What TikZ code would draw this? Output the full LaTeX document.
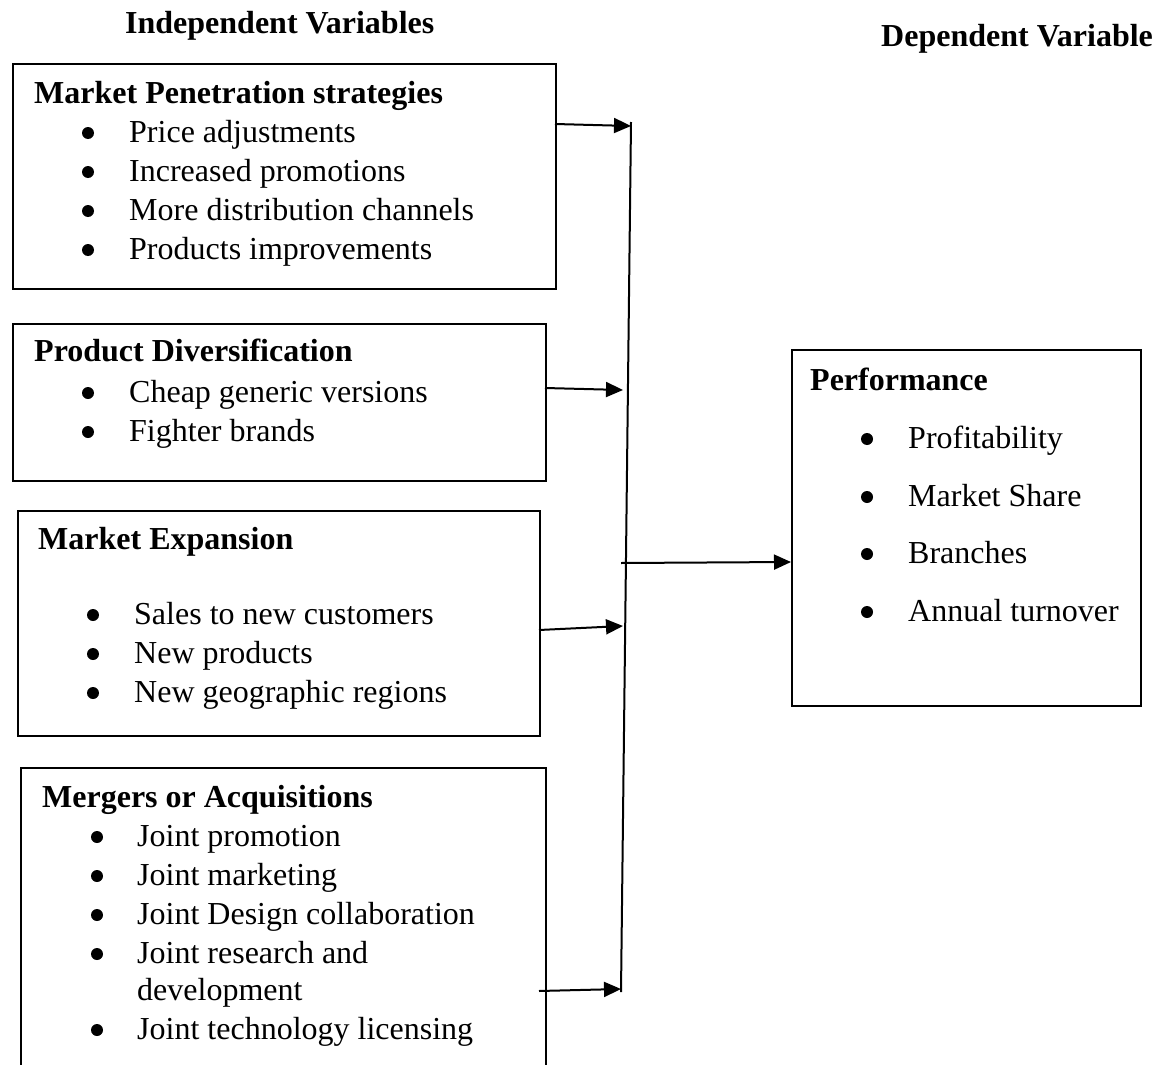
\documentclass[tikz,border=0pt]{standalone}
\usepackage{fontspec}
\setmainfont{Liberation Serif}
\usetikzlibrary{arrows.meta}
\begin{document}
\begin{tikzpicture}[x=1pt,y=-1pt,
  box/.style={draw, line width=2pt, anchor=north west, inner sep=0pt},
  hd/.style={anchor=base west, inner sep=0pt, font=\fontsize{32}{38}\selectfont\bfseries},
  itm/.style={anchor=base west, inner sep=0pt, font=\fontsize{32}{38}\selectfont},
  bul/.style={circle, fill, inner sep=0pt, minimum size=12pt},
  conn/.style={line width=2pt, -{Triangle[length=17pt,width=15pt]}},
  spine/.style={line width=2pt}]
\clip (0,0) rectangle (1157,1065);

% titles
\node[hd] (tind) at (125,34) {Independent Variables};
\node[hd] (tdep) at (881,47) {Dependent Variable};

% boxes
\node[box, minimum width=543pt, minimum height=225pt] (b1) at (12,63) {};
\node[box, minimum width=533pt, minimum height=157pt] (b2) at (12,323) {};
\node[box, minimum width=522pt, minimum height=225pt] (b3) at (17,510) {};
\node[box, minimum width=525pt, minimum height=320pt] (b4) at (20,767) {};
\node[box, minimum width=349pt, minimum height=356pt] (bp) at (791,349) {};

% box 1
\node[hd] (h1) at (34,103) {Market Penetration strategies};
\node[bul] (b1a) at (88,133) {}; \node[itm] (i1a) at (129,142) {Price adjustments};
\node[bul] (b1b) at (88,172) {}; \node[itm] (i1b) at (129,181) {Increased promotions};
\node[bul] (b1c) at (88,211) {}; \node[itm] (i1c) at (129,220) {More distribution channels};
\node[bul] (b1d) at (88,250) {}; \node[itm] (i1d) at (129,259) {Products improvements};

% box 2
\node[hd] (h2) at (34,361) {Product Diversification};
\node[bul] (b2a) at (88,393) {}; \node[itm] (i2a) at (129,402) {Cheap generic versions};
\node[bul] (b2b) at (88,432) {}; \node[itm] (i2b) at (129,441) {Fighter brands};

% box 3
\node[hd] (h3) at (38,549) {Market Expansion};
\node[bul] (b3a) at (93,615) {}; \node[itm] (i3a) at (134,624) {Sales to new customers};
\node[bul] (b3b) at (93,654) {}; \node[itm] (i3b) at (134,663) {New products};
\node[bul] (b3c) at (93,693) {}; \node[itm] (i3c) at (134,702) {New geographic regions};

% box 4
\node[hd] (h4) at (42,807) {Mergers or Acquisitions};
\node[bul] (b4a) at (97,837) {}; \node[itm] (i4a) at (137,846) {Joint promotion};
\node[bul] (b4b) at (97,876) {}; \node[itm] (i4b) at (137,885) {Joint marketing};
\node[bul] (b4c) at (97,915) {}; \node[itm] (i4c) at (137,924) {Joint Design collaboration};
\node[bul] (b4d) at (97,954) {}; \node[itm] (i4d) at (137,963) {Joint research and};
\node[itm] (i4e) at (137,1000) {development};
\node[bul] (b4f) at (97,1030) {}; \node[itm] (i4f) at (137,1039) {Joint technology licensing};

% performance
\node[hd] (hp) at (810,390) {Performance};
\node[bul] (bpa) at (867,439) {}; \node[itm] (ipa) at (908,448) {Profitability};
\node[bul] (bpb) at (867,497) {}; \node[itm] (ipb) at (908,506) {Market Share};
\node[bul] (bpc) at (867,554) {}; \node[itm] (ipc) at (908,563) {Branches};
\node[bul] (bpd) at (867,612) {}; \node[itm] (ipd) at (908,621) {Annual turnover};

% connector points
\coordinate (s1) at (555,124); \coordinate (t1) at (631,126);
\coordinate (s2) at (545,388); \coordinate (t2) at (623,390);
\coordinate (s3) at (539,630); \coordinate (t3) at (623,626);
\coordinate (s4) at (539,991); \coordinate (t4) at (621,989);
\coordinate (sp1) at (631,122); \coordinate (sp2) at (621,992);
\coordinate (s5) at (621,563); \coordinate (t5) at (bp.west |- 0,562);

\draw[spine] (sp1) -- (sp2);
\draw[conn] (s1) -- (t1);
\draw[conn] (s2) -- (t2);
\draw[conn] (s3) -- (t3);
\draw[conn] (s4) -- (t4);
\draw[conn] (s5) -- (t5);
\end{tikzpicture}
\end{document}
